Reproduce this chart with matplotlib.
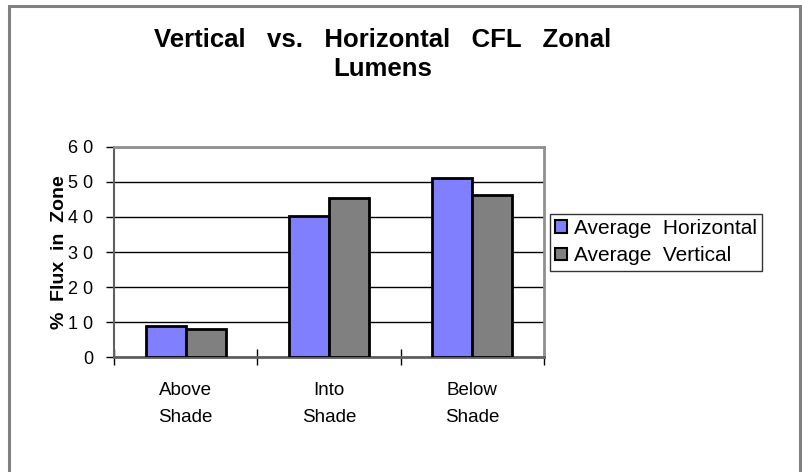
import matplotlib.pyplot as plt
from matplotlib.patches import Rectangle
import numpy as np

plt.rcParams['font.family'] = ['Liberation Sans', 'DejaVu Sans']

categories = ['Above\nShade', 'Into\nShade', 'Below\nShade']
horizontal = [8.9, 40.4, 51.0]
vertical = [8.0, 45.4, 46.3]
yticks = [0, 10, 20, 30, 40, 50, 60]
ytick_labels = ['0', '1 0', '2 0', '3 0', '4 0', '5 0', '6 0']

fig = plt.figure(figsize=(8.03, 4.72), dpi=100)

# outer chart border (bottom edge falls off the image)
fig.patches.append(Rectangle((0.011, -0.05), 0.985, 1.038, transform=fig.transFigure,
                             fill=False, edgecolor='#808080', linewidth=2.2, zorder=0))

ax = fig.add_axes([0.142, 0.2436, 0.5355, 0.445])
x = np.arange(len(categories))
w = 0.28
ax.bar(x - w / 2, horizontal, w, color='#8080FF', edgecolor='black', linewidth=2,
       label='Average  Horizontal', zorder=3)
ax.bar(x + w / 2, vertical, w, color='#808080', edgecolor='black', linewidth=2,
       label='Average  Vertical', zorder=3)

ax.set_xlim(-0.5, 2.5)
ax.set_ylim(0, 60)
ax.set_yticks(yticks)
ax.set_yticklabels(ytick_labels, fontsize=13)
ax.yaxis.grid(True, color='black', linewidth=1)
ax.set_axisbelow(True)

ax.set_xticks([-0.5, 0.5, 1.5, 2.5])
ax.set_xticklabels([])
ax.set_xticks(x, minor=True)
ax.set_xticklabels(categories, minor=True, fontsize=13.5, linespacing=1.75)
ax.tick_params(axis='x', which='major', direction='inout', length=12, width=1, color='black')
ax.tick_params(axis='x', which='minor', length=0, pad=18)
ax.tick_params(axis='y', direction='out', length=6, width=1, color='black', pad=9)

for s in ['top', 'right']:
    ax.spines[s].set_color('#909090')
    ax.spines[s].set_linewidth(2)
ax.spines['left'].set_color('#606060')
ax.spines['left'].set_linewidth(1.5)
ax.spines['bottom'].set_color('#606060')
ax.spines['bottom'].set_linewidth(2)

ax.set_ylabel('%  Flux  in  Zone', fontsize=14, fontweight='bold', labelpad=0)

fig.text(0.477, 0.94, 'Vertical   vs.   Horizontal   CFL   Zonal\nLumens', ha='center', va='top',
         fontsize=18.5, fontweight='bold', linespacing=1.22)

leg = ax.legend(loc='upper left', bbox_to_anchor=(0.685, 0.547), bbox_transform=fig.transFigure,
                fontsize=15, frameon=True, fancybox=False, borderpad=0.25, handlelength=0.55,
                handleheight=0.55, handletextpad=0.35, labelspacing=0.4, borderaxespad=0)
leg.get_frame().set_edgecolor('black')
leg.get_frame().set_linewidth(1)
for h in leg.legend_handles:
    h.set_linewidth(1.5)

fig.savefig('out.png', dpi=100)
